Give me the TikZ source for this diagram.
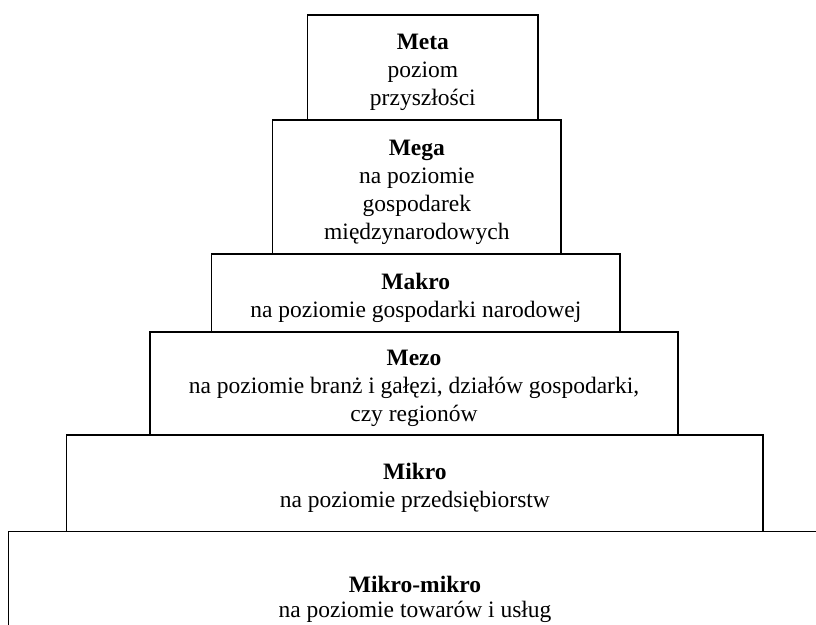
\documentclass[tikz,border=0pt]{standalone}
\usepackage{fontspec}
\setmainfont{Liberation Serif}
\begin{document}
\begin{tikzpicture}[x=1pt,y=1pt,
  levelbox/.style={draw=black, line width=1.4pt, fill=white, inner sep=0pt},
  leveltext/.style={inner sep=0pt, align=center,
    font=\fontsize{23.5}{28}\selectfont}]
\useasboundingbox (0,0) rectangle (816,624);
% boxes, bottom to top
\node[levelbox, minimum width=813.4, minimum height=152.5] (mm) at (415,16.25) {};
\node[levelbox, minimum width=696.3, minimum height=96.5] (mikro) at (414.85,140.75) {};
\node[levelbox, minimum width=528, minimum height=103] (mezo) at (414,240.5) {};
\node[levelbox, minimum width=408.3, minimum height=78] (makro) at (415.85,331) {};
\node[levelbox, minimum width=288.3, minimum height=134] (mega) at (416.85,437) {};
\node[levelbox, minimum width=230.3, minimum height=105] (meta) at (422.85,556.5) {};
% texts
\node[leveltext, font=\fontsize{23.5}{25}\selectfont] (mmt) at (415,25)
  {\textbf{Mikro-mikro}\\na poziomie towarów i usług};
\node[leveltext] (mikrot) at ([yshift=-5pt]mikro.center)
  {\textbf{Mikro}\\na poziomie przedsiębiorstw};
\node[leveltext] (mezot) at ([yshift=-5pt]mezo.center)
  {\textbf{Mezo}\\na poziomie branż i gałęzi, działów gospodarki,\\czy regionów};
\node[leveltext] (makrot) at ([yshift=-5pt]makro.center)
  {\textbf{Makro}\\na poziomie gospodarki narodowej};
\node[leveltext] (megat) at ([yshift=-5pt]mega.center)
  {\textbf{Mega}\\na poziomie\\gospodarek\\międzynarodowych};
\node[leveltext] (metat) at ([yshift=-5pt]meta.center)
  {\textbf{Meta}\\poziom\\przyszłości};
\end{tikzpicture}
\end{document}
